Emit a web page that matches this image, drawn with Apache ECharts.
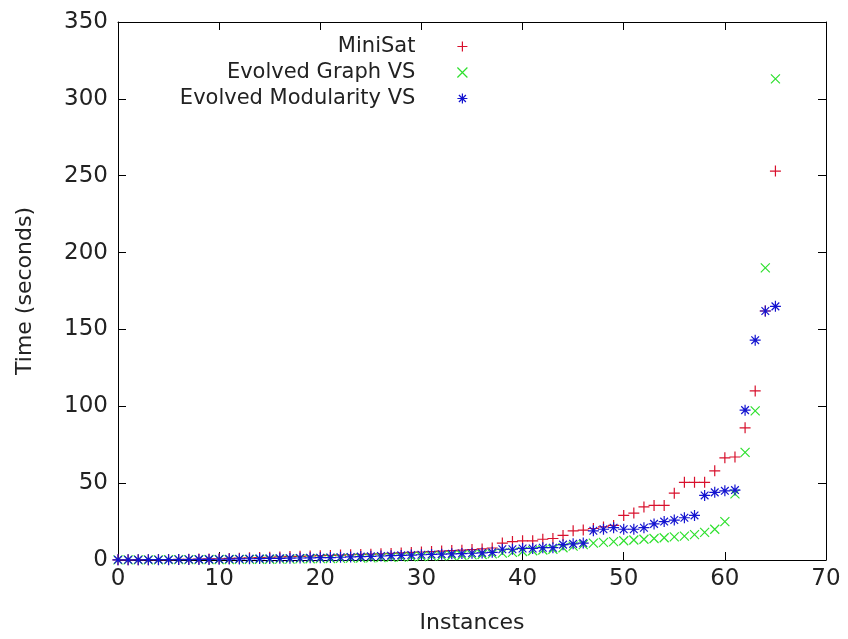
<!DOCTYPE html>
<html>
<head>
<meta charset="utf-8">
<script src="https://cdn.jsdelivr.net/npm/echarts@6/dist/echarts.min.js"></script>
<style>html,body{margin:0;padding:0;background:#fff}#c{width:848px;height:639px}</style>
</head>
<body>
<div id="c"></div>
<script>
const seriesNames = ['MiniSat', 'Evolved Graph VS', 'Evolved Modularity VS'];
const xTicks = [0, 10, 20, 30, 40, 50, 60, 70];
const yTicks = [0, 50, 100, 150, 200, 250, 300, 350];

const miniSat = [
  0.1,0.1,0.2,0.2,0.3,0.3,0.4,0.5,0.6,0.7,
  0.8,1.0,1.2,1.4,1.6,1.8,2.0,2.2,2.4,2.6,
  2.8,3.0,3.2,3.4,3.6,3.8,4.0,4.3,4.6,4.9,
  5.2,5.5,5.8,6.1,6.4,6.8,7.2,7.8,
  11,12,12.5,12.5,13.5,14,16,19,19.5,20.5,21.5,22.5,
  29,30.5,34.5,35.5,35.5,43.5,50.5,50.5,50.5,58,
  66.5,67,86,110,162,253
];
const graphVS = [
  0.1,0.1,0.1,0.1,0.1,0.2,0.2,0.2,0.2,0.3,
  0.3,0.3,0.4,0.4,0.5,0.5,0.6,0.6,0.7,0.8,
  0.9,1.0,1.1,1.2,1.3,1.4,1.5,1.7,1.9,2.1,
  2.3,2.5,2.7,2.9,3.1,3.3,3.6,4.0,
  4.5,5,5.5,6,6.5,7,8,9,10,11,11.5,12,
  12.5,13,13.5,14,14.5,15,15.5,16.5,18,20,
  25,43,70,97,190,313
];
const modularityVS = [
  0.1,0.1,0.1,0.2,0.2,0.2,0.3,0.3,0.4,0.4,
  0.5,0.6,0.7,0.8,0.9,1.0,1.1,1.2,1.3,1.4,
  1.5,1.6,1.8,2.0,2.2,2.4,2.6,2.8,3.0,3.2,
  3.4,3.6,3.8,4.0,4.2,4.4,4.6,5.0,
  7,7,7.5,7.5,8,8,10,10.5,11,19,20,21,
  20,20,21,23.5,25,26,27.5,29,42,44,
  45,45.5,97.5,143,162,165
];

const toPairs = arr => arr.map((v, i) => [i, v]);
const colors = ['#d8102c', '#2ee02e', '#1414d0'];
const symbols = [
  'path://M0,5L10,5M5,0L5,10',
  'path://M0,0L10,10M10,0L0,10',
  'path://M0,5L10,5M5,0L5,10M1.5,1.5L8.5,8.5M8.5,1.5L1.5,8.5'
];
const sizes = [11, 9, 11];
const dataSets = [miniSat, graphVS, modularityVS];

const font = 'DejaVu Sans';
const txt = '#222';

const chart = echarts.init(document.getElementById('c'), null, {renderer: 'canvas'});
const axLine = {show: true, onZero: false, lineStyle: {color: '#000', width: 1}};
const tick = {show: true, inside: true, length: 8, lineStyle: {color: '#000'}};
chart.setOption({
  animation: false,
  backgroundColor: '#fff',
  grid: {left: 118, right: 22, top: 22, bottom: 79, containLabel: false},
  legend: {
    orient: 'vertical',
    right: 380,
    top: 36,
    padding: 0,
    align: 'right',
    itemWidth: 84,
    itemHeight: 10,
    itemGap: 5,
    textStyle: {fontFamily: font, fontSize: 21, color: txt},
    data: seriesNames.map((n, k) => ({
      name: n,
      itemStyle: {color: 'rgba(0,0,0,0)', borderColor: colors[k], borderWidth: 1.2}
    }))
  },
  xAxis: [{
    type: 'value', min: xTicks[0], max: xTicks[xTicks.length - 1], interval: 10,
    position: 'bottom',
    name: 'Instances', nameLocation: 'middle', nameGap: 52,
    nameTextStyle: {fontFamily: font, fontSize: 22, color: txt},
    axisLine: axLine,
    axisTick: tick,
    axisLabel: {fontFamily: font, fontSize: 23, color: txt, margin: 8},
    splitLine: {show: false}
  }, {
    type: 'value', min: xTicks[0], max: xTicks[xTicks.length - 1], interval: 10,
    position: 'top',
    axisLine: axLine,
    axisTick: tick,
    axisLabel: {show: false},
    splitLine: {show: false}
  }],
  yAxis: [{
    type: 'value', min: yTicks[0], max: yTicks[yTicks.length - 1], interval: 50,
    position: 'left',
    name: 'Time (seconds)', nameLocation: 'middle', nameGap: 82,
    nameTextStyle: {fontFamily: font, fontSize: 22, color: txt},
    axisLine: axLine,
    axisTick: tick,
    axisLabel: {fontFamily: font, fontSize: 23, color: txt, margin: 10},
    splitLine: {show: false}
  }, {
    type: 'value', min: yTicks[0], max: yTicks[yTicks.length - 1], interval: 50,
    position: 'right',
    axisLine: axLine,
    axisTick: tick,
    axisLabel: {show: false},
    splitLine: {show: false}
  }],
  series: dataSets.map((arr, k) => ({
    name: seriesNames[k],
    type: 'scatter',
    xAxisIndex: 0,
    yAxisIndex: 0,
    symbol: symbols[k],
    symbolSize: sizes[k],
    symbolKeepAspect: true,
    itemStyle: {color: 'rgba(0,0,0,0)', borderColor: colors[k], borderWidth: 1.2, opacity: 1},
    emphasis: {disabled: true},
    data: toPairs(arr)
  }))
});
</script>
</body>
</html>
